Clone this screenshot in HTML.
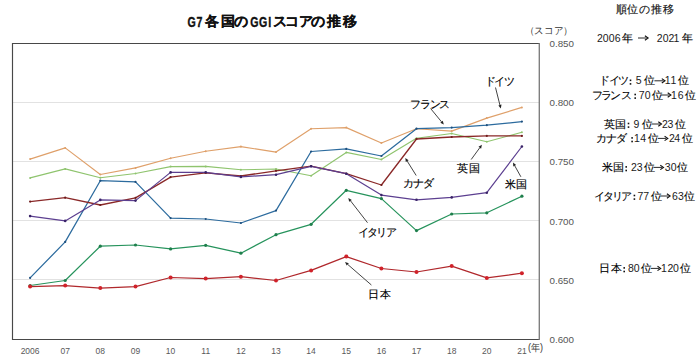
<!DOCTYPE html>
<html lang="ja"><head><meta charset="utf-8"><style>
html,body{margin:0;padding:0;background:#fff;width:700px;height:363px;overflow:hidden}
svg{display:block;font-family:"Liberation Sans",sans-serif}
.ax{font-size:9.9px;fill:#555}
.xl{font-size:8.5px;fill:#595959}
.lb{font-size:11px;fill:#000;stroke:#000;stroke-width:0.15px}
.rp{font-size:10.5px;fill:#000;stroke:#000;stroke-width:0.12px}
.rpd{font-size:10.5px;fill:#1a1a1a}
.rph{font-size:10.5px;fill:#111;stroke:#111;stroke-width:0.15px}
.til{font-size:14px;font-weight:bold;fill:#111;stroke:#111;stroke-width:0.35px}
.tic{font-size:13.5px;font-weight:bold;fill:#111;stroke:#111;stroke-width:0.2px}
.nen{font-size:10px;fill:#333}
</style></head><body>
<svg width="700" height="363" viewBox="0 0 700 363">
<line x1="12.5" y1="102.5" x2="539.5" y2="102.5" stroke="#e2e2e2" stroke-width="1"/>
<line x1="12.5" y1="161.5" x2="539.5" y2="161.5" stroke="#e2e2e2" stroke-width="1"/>
<line x1="12.5" y1="220.5" x2="539.5" y2="220.5" stroke="#e2e2e2" stroke-width="1"/>
<line x1="12.5" y1="279.5" x2="539.5" y2="279.5" stroke="#e2e2e2" stroke-width="1"/>
<polyline points="30.1,159.1 65.2,147.9 100.3,174.5 135.5,167.9 170.6,158.3 205.7,151.2 240.9,146.6 276.0,152.1 311.1,128.7 346.3,127.6 381.4,143.0 416.5,128.7 451.7,131.1 486.8,118.1 521.9,107.4" fill="none" stroke="#dfa06a" stroke-width="1.15" stroke-linejoin="round"/>
<circle cx="30.1" cy="159.1" r="1.0" fill="#dfa06a"/>
<circle cx="65.2" cy="147.9" r="1.0" fill="#dfa06a"/>
<circle cx="100.3" cy="174.5" r="1.0" fill="#dfa06a"/>
<circle cx="135.5" cy="167.9" r="1.0" fill="#dfa06a"/>
<circle cx="170.6" cy="158.3" r="1.0" fill="#dfa06a"/>
<circle cx="205.7" cy="151.2" r="1.0" fill="#dfa06a"/>
<circle cx="240.9" cy="146.6" r="1.0" fill="#dfa06a"/>
<circle cx="276.0" cy="152.1" r="1.0" fill="#dfa06a"/>
<circle cx="311.1" cy="128.7" r="1.0" fill="#dfa06a"/>
<circle cx="346.3" cy="127.6" r="1.0" fill="#dfa06a"/>
<circle cx="381.4" cy="143.0" r="1.0" fill="#dfa06a"/>
<circle cx="416.5" cy="128.7" r="1.0" fill="#dfa06a"/>
<circle cx="451.7" cy="131.1" r="1.0" fill="#dfa06a"/>
<circle cx="486.8" cy="118.1" r="1.0" fill="#dfa06a"/>
<circle cx="521.9" cy="107.4" r="1.0" fill="#dfa06a"/>
<polyline points="30.1,177.9 65.2,168.9 100.3,177.8 135.5,173.5 170.6,166.6 205.7,166.4 240.9,169.8 276.0,169.0 311.1,175.8 346.3,152.4 381.4,159.5 416.5,138.2 451.7,133.5 486.8,141.8 521.9,132.3" fill="none" stroke="#8fc46e" stroke-width="1.15" stroke-linejoin="round"/>
<circle cx="30.1" cy="177.9" r="1.0" fill="#8fc46e"/>
<circle cx="65.2" cy="168.9" r="1.0" fill="#8fc46e"/>
<circle cx="100.3" cy="177.8" r="1.0" fill="#8fc46e"/>
<circle cx="135.5" cy="173.5" r="1.0" fill="#8fc46e"/>
<circle cx="170.6" cy="166.6" r="1.0" fill="#8fc46e"/>
<circle cx="205.7" cy="166.4" r="1.0" fill="#8fc46e"/>
<circle cx="240.9" cy="169.8" r="1.0" fill="#8fc46e"/>
<circle cx="276.0" cy="169.0" r="1.0" fill="#8fc46e"/>
<circle cx="311.1" cy="175.8" r="1.0" fill="#8fc46e"/>
<circle cx="346.3" cy="152.4" r="1.0" fill="#8fc46e"/>
<circle cx="381.4" cy="159.5" r="1.0" fill="#8fc46e"/>
<circle cx="416.5" cy="138.2" r="1.0" fill="#8fc46e"/>
<circle cx="451.7" cy="133.5" r="1.0" fill="#8fc46e"/>
<circle cx="486.8" cy="141.8" r="1.0" fill="#8fc46e"/>
<circle cx="521.9" cy="132.3" r="1.0" fill="#8fc46e"/>
<polyline points="30.1,277.9 65.2,241.9 100.3,180.7 135.5,181.9 170.6,218.1 205.7,219.0 240.9,223.0 276.0,210.6 311.1,151.5 346.3,148.9 381.4,156.0 416.5,128.7 451.7,127.6 486.8,125.2 521.9,121.6" fill="none" stroke="#2c6b9e" stroke-width="1.25" stroke-linejoin="round"/>
<circle cx="30.1" cy="277.9" r="1.1" fill="#1d4f7e"/>
<circle cx="65.2" cy="241.9" r="1.1" fill="#1d4f7e"/>
<circle cx="100.3" cy="180.7" r="1.1" fill="#1d4f7e"/>
<circle cx="135.5" cy="181.9" r="1.1" fill="#1d4f7e"/>
<circle cx="170.6" cy="218.1" r="1.1" fill="#1d4f7e"/>
<circle cx="205.7" cy="219.0" r="1.1" fill="#1d4f7e"/>
<circle cx="240.9" cy="223.0" r="1.1" fill="#1d4f7e"/>
<circle cx="276.0" cy="210.6" r="1.1" fill="#1d4f7e"/>
<circle cx="311.1" cy="151.5" r="1.1" fill="#1d4f7e"/>
<circle cx="346.3" cy="148.9" r="1.1" fill="#1d4f7e"/>
<circle cx="381.4" cy="156.0" r="1.1" fill="#1d4f7e"/>
<circle cx="416.5" cy="128.7" r="1.1" fill="#1d4f7e"/>
<circle cx="451.7" cy="127.6" r="1.1" fill="#1d4f7e"/>
<circle cx="486.8" cy="125.2" r="1.1" fill="#1d4f7e"/>
<circle cx="521.9" cy="121.6" r="1.1" fill="#1d4f7e"/>
<polyline points="30.1,201.6 65.2,197.7 100.3,205.0 135.5,197.9 170.6,177.1 205.7,172.9 240.9,176.0 276.0,170.8 311.1,166.2 346.3,173.7 381.4,185.0 416.5,139.0 451.7,137.0 486.8,135.9 521.9,135.9" fill="none" stroke="#8a2828" stroke-width="1.3" stroke-linejoin="round"/>
<circle cx="30.1" cy="201.6" r="1.1" fill="#701c1c"/>
<circle cx="65.2" cy="197.7" r="1.1" fill="#701c1c"/>
<circle cx="100.3" cy="205.0" r="1.1" fill="#701c1c"/>
<circle cx="135.5" cy="197.9" r="1.1" fill="#701c1c"/>
<circle cx="170.6" cy="177.1" r="1.1" fill="#701c1c"/>
<circle cx="205.7" cy="172.9" r="1.1" fill="#701c1c"/>
<circle cx="240.9" cy="176.0" r="1.1" fill="#701c1c"/>
<circle cx="276.0" cy="170.8" r="1.1" fill="#701c1c"/>
<circle cx="311.1" cy="166.2" r="1.1" fill="#701c1c"/>
<circle cx="346.3" cy="173.7" r="1.1" fill="#701c1c"/>
<circle cx="381.4" cy="185.0" r="1.1" fill="#701c1c"/>
<circle cx="416.5" cy="139.0" r="1.1" fill="#701c1c"/>
<circle cx="451.7" cy="137.0" r="1.1" fill="#701c1c"/>
<circle cx="486.8" cy="135.9" r="1.1" fill="#701c1c"/>
<circle cx="521.9" cy="135.9" r="1.1" fill="#701c1c"/>
<polyline points="30.1,216.1 65.2,220.9 100.3,199.9 135.5,200.6 170.6,172.4 205.7,172.3 240.9,176.9 276.0,174.7 311.1,166.3 346.3,173.7 381.4,195.1 416.5,199.8 451.7,197.4 486.8,192.7 521.9,146.5" fill="none" stroke="#5c3f90" stroke-width="1.2" stroke-linejoin="round"/>
<circle cx="30.1" cy="216.1" r="1.3" fill="#3a2468"/>
<circle cx="65.2" cy="220.9" r="1.3" fill="#3a2468"/>
<circle cx="100.3" cy="199.9" r="1.3" fill="#3a2468"/>
<circle cx="135.5" cy="200.6" r="1.3" fill="#3a2468"/>
<circle cx="170.6" cy="172.4" r="1.3" fill="#3a2468"/>
<circle cx="205.7" cy="172.3" r="1.3" fill="#3a2468"/>
<circle cx="240.9" cy="176.9" r="1.3" fill="#3a2468"/>
<circle cx="276.0" cy="174.7" r="1.3" fill="#3a2468"/>
<circle cx="311.1" cy="166.3" r="1.3" fill="#3a2468"/>
<circle cx="346.3" cy="173.7" r="1.3" fill="#3a2468"/>
<circle cx="381.4" cy="195.1" r="1.3" fill="#3a2468"/>
<circle cx="416.5" cy="199.8" r="1.3" fill="#3a2468"/>
<circle cx="451.7" cy="197.4" r="1.3" fill="#3a2468"/>
<circle cx="486.8" cy="192.7" r="1.3" fill="#3a2468"/>
<circle cx="521.9" cy="146.5" r="1.3" fill="#3a2468"/>
<polyline points="30.1,285.5 65.2,280.5 100.3,246.2 135.5,245.0 170.6,248.9 205.7,245.3 240.9,253.2 276.0,234.7 311.1,224.3 346.3,190.3 381.4,198.6 416.5,230.6 451.7,214.0 486.8,212.8 521.9,196.2" fill="none" stroke="#26935c" stroke-width="1.2" stroke-linejoin="round"/>
<circle cx="30.1" cy="285.5" r="1.6" fill="#1f7f4c"/>
<circle cx="65.2" cy="280.5" r="1.6" fill="#1f7f4c"/>
<circle cx="100.3" cy="246.2" r="1.6" fill="#1f7f4c"/>
<circle cx="135.5" cy="245.0" r="1.6" fill="#1f7f4c"/>
<circle cx="170.6" cy="248.9" r="1.6" fill="#1f7f4c"/>
<circle cx="205.7" cy="245.3" r="1.6" fill="#1f7f4c"/>
<circle cx="240.9" cy="253.2" r="1.6" fill="#1f7f4c"/>
<circle cx="276.0" cy="234.7" r="1.6" fill="#1f7f4c"/>
<circle cx="311.1" cy="224.3" r="1.6" fill="#1f7f4c"/>
<circle cx="346.3" cy="190.3" r="1.6" fill="#1f7f4c"/>
<circle cx="381.4" cy="198.6" r="1.6" fill="#1f7f4c"/>
<circle cx="416.5" cy="230.6" r="1.6" fill="#1f7f4c"/>
<circle cx="451.7" cy="214.0" r="1.6" fill="#1f7f4c"/>
<circle cx="486.8" cy="212.8" r="1.6" fill="#1f7f4c"/>
<circle cx="521.9" cy="196.2" r="1.6" fill="#1f7f4c"/>
<polyline points="30.1,286.6 65.2,285.6 100.3,288.1 135.5,286.6 170.6,277.5 205.7,278.6 240.9,276.7 276.0,280.5 311.1,270.4 346.3,256.6 381.4,268.5 416.5,272.0 451.7,266.1 486.8,277.9 521.9,273.2" fill="none" stroke="#b0282c" stroke-width="1.25" stroke-linejoin="round"/>
<circle cx="30.1" cy="286.6" r="2.0" fill="#d0222a"/>
<circle cx="65.2" cy="285.6" r="2.0" fill="#d0222a"/>
<circle cx="100.3" cy="288.1" r="2.0" fill="#d0222a"/>
<circle cx="135.5" cy="286.6" r="2.0" fill="#d0222a"/>
<circle cx="170.6" cy="277.5" r="2.0" fill="#d0222a"/>
<circle cx="205.7" cy="278.6" r="2.0" fill="#d0222a"/>
<circle cx="240.9" cy="276.7" r="2.0" fill="#d0222a"/>
<circle cx="276.0" cy="280.5" r="2.0" fill="#d0222a"/>
<circle cx="311.1" cy="270.4" r="2.0" fill="#d0222a"/>
<circle cx="346.3" cy="256.6" r="2.0" fill="#d0222a"/>
<circle cx="381.4" cy="268.5" r="2.0" fill="#d0222a"/>
<circle cx="416.5" cy="272.0" r="2.0" fill="#d0222a"/>
<circle cx="451.7" cy="266.1" r="2.0" fill="#d0222a"/>
<circle cx="486.8" cy="277.9" r="2.0" fill="#d0222a"/>
<circle cx="521.9" cy="273.2" r="2.0" fill="#d0222a"/>
<path d="M539.5,43.5 H12.5 V339.5 H539.5" fill="none" stroke="#484848" stroke-width="1.15"/>
<line x1="539.3" y1="43.0" x2="539.3" y2="340.0" stroke="#7c7c7c" stroke-width="1.35"/>
<text x="549.5" y="47.0" class="ax" textLength="24.5" lengthAdjust="spacingAndGlyphs">0.850</text>
<text x="549.5" y="106.2" class="ax" textLength="24.5" lengthAdjust="spacingAndGlyphs">0.800</text>
<text x="549.5" y="165.4" class="ax" textLength="24.5" lengthAdjust="spacingAndGlyphs">0.750</text>
<text x="549.5" y="224.6" class="ax" textLength="24.5" lengthAdjust="spacingAndGlyphs">0.700</text>
<text x="549.5" y="283.8" class="ax" textLength="24.5" lengthAdjust="spacingAndGlyphs">0.650</text>
<text x="549.5" y="343.0" class="ax" textLength="24.5" lengthAdjust="spacingAndGlyphs">0.600</text>
<text x="30.1" y="354" class="xl" text-anchor="middle">2006</text>
<text x="65.2" y="354" class="xl" text-anchor="middle">07</text>
<text x="100.3" y="354" class="xl" text-anchor="middle">08</text>
<text x="135.5" y="354" class="xl" text-anchor="middle">09</text>
<text x="170.6" y="354" class="xl" text-anchor="middle">10</text>
<text x="205.7" y="354" class="xl" text-anchor="middle">11</text>
<text x="240.9" y="354" class="xl" text-anchor="middle">12</text>
<text x="276.0" y="354" class="xl" text-anchor="middle">13</text>
<text x="311.1" y="354" class="xl" text-anchor="middle">14</text>
<text x="346.3" y="354" class="xl" text-anchor="middle">15</text>
<text x="381.4" y="354" class="xl" text-anchor="middle">16</text>
<text x="416.5" y="354" class="xl" text-anchor="middle">17</text>
<text x="451.7" y="354" class="xl" text-anchor="middle">18</text>
<text x="486.8" y="354" class="xl" text-anchor="middle">20</text>
<text x="521.9" y="354" class="xl" text-anchor="middle">21</text>
<line x1="495.5" y1="87.5" x2="499.9" y2="105.0" stroke="#3a3a3a" stroke-width="0.95"/><polygon points="500.8,108.5 498.4,105.4 501.5,104.6" fill="#222"/>
<line x1="430.6" y1="108.5" x2="441.5" y2="121.8" stroke="#3a3a3a" stroke-width="0.95"/><polygon points="443.8,124.6 440.3,122.8 442.8,120.8" fill="#222"/>
<line x1="416.2" y1="175.5" x2="407.2" y2="161.1" stroke="#3a3a3a" stroke-width="0.95"/><polygon points="405.3,158.0 408.6,160.2 405.8,161.9" fill="#222"/>
<line x1="471.2" y1="159.5" x2="479.8" y2="147.7" stroke="#3a3a3a" stroke-width="0.95"/><polygon points="481.9,144.8 481.1,148.7 478.5,146.8" fill="#222"/>
<line x1="520.9" y1="176.8" x2="514.7" y2="165.7" stroke="#3a3a3a" stroke-width="0.95"/><polygon points="513.0,162.5 516.1,164.9 513.3,166.4" fill="#222"/>
<line x1="367.5" y1="222.7" x2="350.5" y2="200.8" stroke="#3a3a3a" stroke-width="0.95"/><polygon points="348.3,198.0 351.8,199.9 349.2,201.8" fill="#222"/>
<line x1="371.4" y1="285.0" x2="347.7" y2="264.4" stroke="#3a3a3a" stroke-width="0.95"/><polygon points="345.0,262.0 348.8,263.2 346.7,265.6" fill="#222"/>
<text x="484.97" y="84.6" class="lb">ド</text>
<text x="494.05" y="84.6" class="lb">イ</text>
<text x="503.67" y="84.6" class="lb">ツ</text>
<text x="410.16" y="107.6" class="lb">フ</text>
<text x="419.87" y="107.6" class="lb">ラ</text>
<text x="429.61" y="107.6" class="lb">ン</text>
<text x="439.27" y="107.6" class="lb">ス</text>
<text x="457.04" y="172.2" class="lb">英</text>
<text x="468.55" y="172.2" class="lb">国</text>
<text x="402.52" y="187.0" class="lb">カ</text>
<text x="413.44" y="187.0" class="lb">ナ</text>
<text x="423.08" y="187.0" class="lb">ダ</text>
<text x="505.08" y="188.0" class="lb">米</text>
<text x="516.45" y="188.0" class="lb">国</text>
<text x="358.05" y="236.0" class="lb">イ</text>
<text x="367.46" y="236.0" class="lb">タ</text>
<text x="376.16" y="236.0" class="lb">リ</text>
<text x="385.92" y="236.0" class="lb">ア</text>
<text x="368.14" y="297.6" class="lb">日</text>
<text x="379.54" y="297.6" class="lb">本</text>
<text transform="translate(187.44,26.7) scale(0.76,1)" class="til">G</text>
<text transform="translate(196.58,26.7) scale(0.76,1)" class="til">7</text>
<text x="205.42" y="26.0" class="tic">各</text>
<text x="220.58" y="26.0" class="tic">国</text>
<text x="234.12" y="26.0" class="tic">の</text>
<text transform="translate(250.34,26.7) scale(0.76,1)" class="til">G</text>
<text transform="translate(258.94,26.7) scale(0.76,1)" class="til">G</text>
<text transform="translate(268.15,26.7) scale(0.76,1)" class="til">I</text>
<text x="272.63" y="26.0" class="tic">ス</text>
<text x="285.46" y="26.0" class="tic">コ</text>
<text x="298.50" y="26.0" class="tic">ア</text>
<text x="311.42" y="26.0" class="tic">の</text>
<text x="327.32" y="26.0" class="tic">推</text>
<text x="342.58" y="26.0" class="tic">移</text>
<text x="528" y="351" class="nen" textLength="15" lengthAdjust="spacingAndGlyphs">(年)</text>
<text x="524.8" y="34" class="nen" textLength="48" lengthAdjust="spacingAndGlyphs">（スコア）</text>
<text x="615.95" y="12.6" class="rph">順</text>
<text x="627.34" y="12.6" class="rph">位</text>
<text x="638.65" y="12.6" class="rph">の</text>
<text x="651.16" y="12.6" class="rph">推</text>
<text x="662.95" y="12.6" class="rph">移</text>
<text x="596.91" y="41.6" class="rpd">2</text>
<text x="602.87" y="41.6" class="rpd">0</text>
<text x="608.77" y="41.6" class="rpd">0</text>
<text x="614.81" y="41.6" class="rpd">6</text>
<text x="622.23" y="41.6" class="rp">年</text>
<line x1="638" y1="38.0" x2="646.6" y2="38.0" stroke="#111" stroke-width="0.9"/>
<polyline points="644.9,35.8 648.1,38.0 644.9,40.2" fill="none" stroke="#111" stroke-width="1.1"/>
<text x="656.81" y="41.6" class="rpd">2</text>
<text x="662.77" y="41.6" class="rpd">0</text>
<text x="668.61" y="41.6" class="rpd">2</text>
<text x="673.52" y="41.6" class="rpd">1</text>
<text x="682.08" y="41.6" class="rp">年</text>
<text x="599.32" y="84.4" class="rp">ド</text>
<text x="608.85" y="84.4" class="rp">イ</text>
<text x="617.82" y="84.4" class="rp">ツ</text>
<rect x="629.7" y="79.5" width="1.6" height="1.6" fill="#111"/>
<rect x="629.7" y="83.1" width="1.6" height="1.6" fill="#111"/>
<text x="635.85" y="84.4" class="rpd">5</text>
<text x="644.29" y="84.4" class="rp">位</text>
<line x1="654.4" y1="80.8" x2="663.5" y2="80.8" stroke="#111" stroke-width="0.9"/>
<polyline points="661.8,78.6 665,80.8 661.8,83.0" fill="none" stroke="#111" stroke-width="1.1"/>
<text x="664.72" y="84.4" class="rpd">1</text>
<text x="670.52" y="84.4" class="rpd">1</text>
<text x="678.24" y="84.4" class="rp">位</text>
<text x="591.76" y="98.6" class="rp">フ</text>
<text x="600.82" y="98.6" class="rp">ラ</text>
<text x="610.26" y="98.6" class="rp">ン</text>
<text x="621.37" y="98.6" class="rp">ス</text>
<rect x="634.4" y="93.7" width="1.6" height="1.6" fill="#111"/>
<rect x="634.4" y="97.3" width="1.6" height="1.6" fill="#111"/>
<text x="638.80" y="98.6" class="rpd">7</text>
<text x="644.67" y="98.6" class="rpd">0</text>
<text x="651.74" y="98.6" class="rp">位</text>
<line x1="661.1" y1="95.0" x2="669.4" y2="95.0" stroke="#111" stroke-width="0.9"/>
<polyline points="667.6999999999999,92.8 670.9,95.0 667.6999999999999,97.2" fill="none" stroke="#111" stroke-width="1.1"/>
<text x="671.02" y="98.6" class="rpd">1</text>
<text x="677.81" y="98.6" class="rpd">6</text>
<text x="685.09" y="98.6" class="rp">位</text>
<text x="603.94" y="127.6" class="rp">英</text>
<text x="615.25" y="127.6" class="rp">国</text>
<rect x="627.7" y="122.7" width="1.6" height="1.6" fill="#111"/>
<rect x="627.7" y="126.3" width="1.6" height="1.6" fill="#111"/>
<text x="633.41" y="127.6" class="rpd">9</text>
<text x="641.94" y="127.6" class="rp">位</text>
<line x1="651.7" y1="124.0" x2="660.0" y2="124.0" stroke="#111" stroke-width="0.9"/>
<polyline points="658.3,121.8 661.5,124.0 658.3,126.2" fill="none" stroke="#111" stroke-width="1.1"/>
<text x="661.91" y="127.6" class="rpd">2</text>
<text x="667.57" y="127.6" class="rpd">3</text>
<text x="675.14" y="127.6" class="rp">位</text>
<text x="596.47" y="142.0" class="rp">カ</text>
<text x="605.99" y="142.0" class="rp">ナ</text>
<text x="616.33" y="142.0" class="rp">ダ</text>
<rect x="631.3" y="137.1" width="1.6" height="1.6" fill="#111"/>
<rect x="631.3" y="140.7" width="1.6" height="1.6" fill="#111"/>
<text x="634.02" y="142.0" class="rpd">1</text>
<text x="640.32" y="142.0" class="rpd">4</text>
<text x="648.04" y="142.0" class="rp">位</text>
<line x1="658" y1="138.4" x2="666.3" y2="138.4" stroke="#111" stroke-width="0.9"/>
<polyline points="664.5999999999999,136.2 667.8,138.4 664.5999999999999,140.6" fill="none" stroke="#111" stroke-width="1.1"/>
<text x="668.96" y="142.0" class="rpd">2</text>
<text x="674.27" y="142.0" class="rpd">4</text>
<text x="681.59" y="142.0" class="rp">位</text>
<text x="602.18" y="171.0" class="rp">米</text>
<text x="613.25" y="171.0" class="rp">国</text>
<rect x="625.4" y="166.1" width="1.6" height="1.6" fill="#111"/>
<rect x="625.4" y="169.7" width="1.6" height="1.6" fill="#111"/>
<text x="631.11" y="171.0" class="rpd">2</text>
<text x="636.77" y="171.0" class="rpd">3</text>
<text x="643.94" y="171.0" class="rp">位</text>
<line x1="653.6" y1="167.4" x2="662.0" y2="167.4" stroke="#111" stroke-width="0.9"/>
<polyline points="660.3,165.2 663.5,167.4 660.3,169.6" fill="none" stroke="#111" stroke-width="1.1"/>
<text x="664.77" y="171.0" class="rpd">3</text>
<text x="670.77" y="171.0" class="rpd">0</text>
<text x="677.09" y="171.0" class="rp">位</text>
<text x="593.50" y="199.6" class="rp">イ</text>
<text x="602.96" y="199.6" class="rp">タ</text>
<text x="611.71" y="199.6" class="rp">リ</text>
<text x="620.72" y="199.6" class="rp">ア</text>
<rect x="633.6" y="194.7" width="1.6" height="1.6" fill="#111"/>
<rect x="633.6" y="198.3" width="1.6" height="1.6" fill="#111"/>
<text x="637.50" y="199.6" class="rpd">7</text>
<text x="643.30" y="199.6" class="rpd">7</text>
<text x="650.54" y="199.6" class="rp">位</text>
<line x1="660.3" y1="196.0" x2="668.6" y2="196.0" stroke="#111" stroke-width="0.9"/>
<polyline points="666.9,193.8 670.1,196.0 666.9,198.2" fill="none" stroke="#111" stroke-width="1.1"/>
<text x="672.11" y="199.6" class="rpd">6</text>
<text x="677.97" y="199.6" class="rpd">3</text>
<text x="684.14" y="199.6" class="rp">位</text>
<text x="599.19" y="272.0" class="rp">日</text>
<text x="610.74" y="272.0" class="rp">本</text>
<rect x="623.4" y="267.1" width="1.6" height="1.6" fill="#111"/>
<rect x="623.4" y="270.7" width="1.6" height="1.6" fill="#111"/>
<text x="628.09" y="272.0" class="rpd">8</text>
<text x="633.87" y="272.0" class="rpd">0</text>
<text x="641.14" y="272.0" class="rp">位</text>
<line x1="650.9" y1="268.4" x2="659.2" y2="268.4" stroke="#111" stroke-width="0.9"/>
<polyline points="657.5,266.2 660.7,268.4 657.5,270.6" fill="none" stroke="#111" stroke-width="1.1"/>
<text x="661.02" y="272.0" class="rpd">1</text>
<text x="667.41" y="272.0" class="rpd">2</text>
<text x="672.97" y="272.0" class="rpd">0</text>
<text x="680.24" y="272.0" class="rp">位</text>
</svg>
</body></html>
